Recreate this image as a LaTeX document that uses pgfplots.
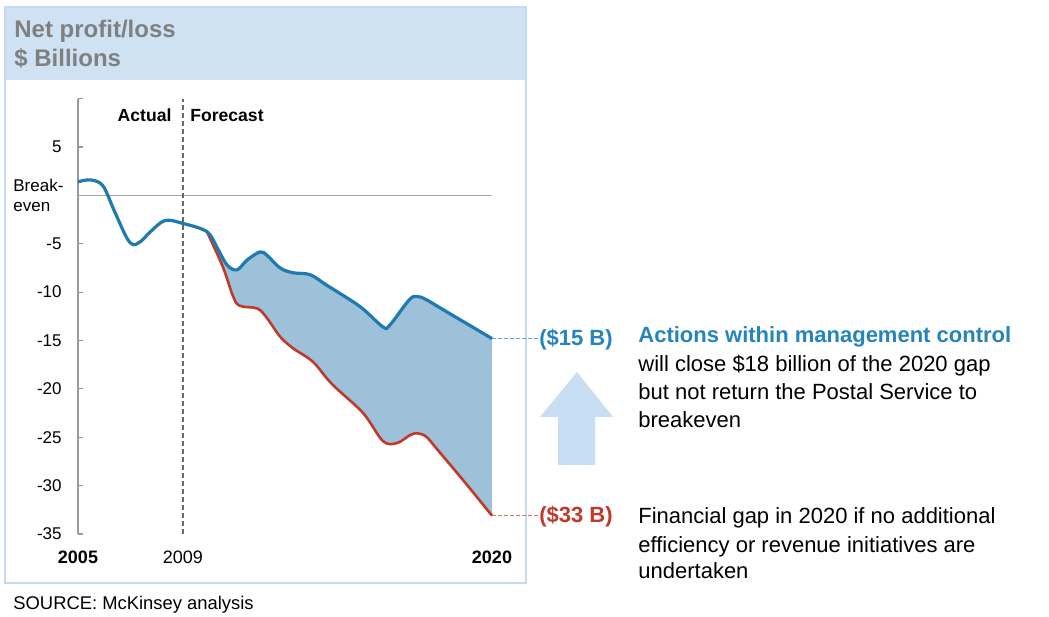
\documentclass[border=0pt]{standalone}
\usepackage{pgfplots}
\pgfplotsset{compat=1.18}
\usepackage{pgfplotstable}
\usepgfplotslibrary{fillbetween}
\usepackage{fontspec}
\setmainfont{Liberation Sans}
\definecolor{hdr}{RGB}{207,226,243}
\definecolor{frm}{RGB}{196,218,240}
\definecolor{lblue}{RGB}{30,122,175}
\definecolor{fillb}{RGB}{156,193,216}
\definecolor{lred}{RGB}{192,57,43}
\definecolor{tblue}{RGB}{38,132,188}
\definecolor{arrowc}{RGB}{200,222,243}
\definecolor{hgray}{RGB}{128,128,128}

% x = years since 2005
\pgfplotstableread{
x y
0.00 1.4
0.45 1.6
0.90 1.0
1.30 -1.5
1.75 -4.3
2.00 -5.1
2.30 -4.7
2.61 -3.8
3.15 -2.6
3.80 -2.9
4.67 -3.75
5.04 -5.4
5.40 -7.2
5.76 -7.7
6.12 -6.7
6.59 -5.85
6.85 -6.2
7.32 -7.5
7.79 -8.0
8.41 -8.2
9.02 -9.3
10.22 -11.5
11.05 -13.6
11.30 -13.4
12.00 -10.8
12.28 -10.45
12.60 -10.75
13.22 -11.8
15.00 -14.8
}\bluedata

\pgfplotstableread{
x y
4.67 -3.75
5.25 -7.4
5.60 -10.3
5.85 -11.4
6.50 -11.7
6.85 -12.7
7.32 -14.6
7.79 -15.8
8.51 -17.2
9.20 -19.5
10.33 -22.5
11.05 -25.4
11.56 -25.6
12.05 -24.75
12.32 -24.6
12.62 -24.95
13.00 -26.2
14.00 -29.6
15.00 -33.1
}\reddata

\pgfplotstableread{
x y
4.67 -3.75
5.04 -5.4
5.40 -7.2
5.76 -7.7
6.12 -6.7
6.59 -5.85
6.85 -6.2
7.32 -7.5
7.79 -8.0
8.41 -8.2
9.02 -9.3
10.22 -11.5
11.05 -13.6
11.30 -13.4
12.00 -10.8
12.28 -10.45
12.60 -10.75
13.22 -11.8
15.00 -14.8
}\bluefc

\begin{document}
\begin{tikzpicture}
\begin{scope}[x=0.5pt,y=0.5pt]
\path (0,0) rectangle (1049,616);
% frame and header
\fill[hdr] (5,609) rectangle (526,536);
\draw[frm, line width=0.9pt] (5,609) rectangle (526,33);
\node[anchor=base west, inner sep=0, text=hgray, font=\fontsize{12}{14}\selectfont\bfseries] at (14,578) {Net profit/loss};
\node[anchor=base west, inner sep=0, text=hgray, font=\fontsize{12}{14}\selectfont\bfseries] at (14,549) {\$ Billions};
% break-even label
\node[anchor=base west, inner sep=0, font=\fontsize{8.5}{10}\selectfont] at (13,424) {Break-};
\node[anchor=base west, inner sep=0, font=\fontsize{8.5}{10}\selectfont] at (13,404) {even};
% source
\node[anchor=base west, inner sep=0, font=\fontsize{9.2}{11}\selectfont] at (13,7) {SOURCE: McKinsey analysis};
% arrow
\fill[arrowc] (577,244) -- (613,199) -- (595,199) -- (595,151) -- (558,151) -- (558,199) -- (540,199) -- cycle;
% right text
\begin{scope}[every node/.style={anchor=base west, inner sep=0, font=\fontsize{11}{13}\selectfont}]
\node[text=tblue, font=\fontsize{11}{13}\selectfont\bfseries] at (638,273) {Actions within management control};
\node at (638,244) {will close \$18 billion of the 2020 gap};
\node at (638,216) {but not return the Postal Service to};
\node at (638,188) {breakeven};
\node at (638,93) {Financial gap in 2020 if no additional};
\node at (638,64) {efficiency or revenue initiatives are};
\node at (638,38) {undertaken};
\end{scope}
\end{scope}

\begin{axis}[
  at={(39pt,41pt)}, anchor=south west, scale only axis,
  width=207pt, height=217.7pt,
  xmin=0, xmax=15, ymin=-35, ymax=10,
  clip=false,
  axis lines*=left,
  axis line style={-},
  y axis line style={draw=gray!80, line width=0.6pt},
  x axis line style={draw=none},
  xtick={0,3.8,15},
  xticklabels={\textbf{2005},2009,\textbf{2020}},
  xtick style={draw=none},
  ytick={-35,-30,-25,-20,-15,-10,-5,5,10},
  yticklabels={-35,-30,-25,-20,-15,-10,-5,5,{}},
  tick align=inside,
  major tick length=2.5pt,
  ytick style={draw=gray!80, line width=0.6pt},
  yticklabel style={font=\fontsize{8.5}{10}\selectfont, anchor=east, inner sep=0pt, xshift=-8pt},
  xticklabel style={font=\fontsize{9}{11}\selectfont, anchor=base, inner sep=0pt, yshift=-14.5pt},
]
\addplot[gray!70, line width=0.5pt] coordinates {(0,0) (15,0)};
\addplot[draw=none, name path=B, smooth, tension=0.55] table {\bluefc};
\addplot[draw=none, name path=R, smooth, tension=0.55] table {\reddata};
\addplot[fillb] fill between[of=B and R];
\draw[black!60, line width=0.75pt, dash pattern=on 2.6pt off 1.4pt] (axis cs:3.8,-35) -- (axis cs:3.8,10);
\addplot[lred, line width=1.3pt, smooth, tension=0.55] table {\reddata};
\addplot[lblue, line width=1.6pt, smooth, tension=0.55] table {\bluedata};
\node[anchor=base east, inner sep=0, font=\fontsize{8.8}{10}\selectfont\bfseries, xshift=-5.5pt] at (axis cs:3.8,7.6) {Actual};
\node[anchor=base west, inner sep=0, font=\fontsize{8.8}{10}\selectfont\bfseries, xshift=3.5pt] at (axis cs:3.8,7.6) {Forecast};
\draw[tblue!70, line width=0.6pt, dash pattern=on 2pt off 1pt] (axis cs:15,-14.8) -- (axis cs:16.67,-14.8);
\draw[lred!70, line width=0.6pt, dash pattern=on 2pt off 1pt] (axis cs:15,-33.1) -- (axis cs:16.67,-33.1);
\node[anchor=base west, inner sep=0, text=tblue, font=\fontsize{11}{13}\selectfont\bfseries, yshift=-3.4pt] at (axis cs:16.7,-14.8) {(\$15 B)};
\node[anchor=base west, inner sep=0, text=lred, font=\fontsize{11}{13}\selectfont\bfseries, yshift=-3.5pt] at (axis cs:16.7,-33.1) {(\$33 B)};
\end{axis}
\end{tikzpicture}
\end{document}
